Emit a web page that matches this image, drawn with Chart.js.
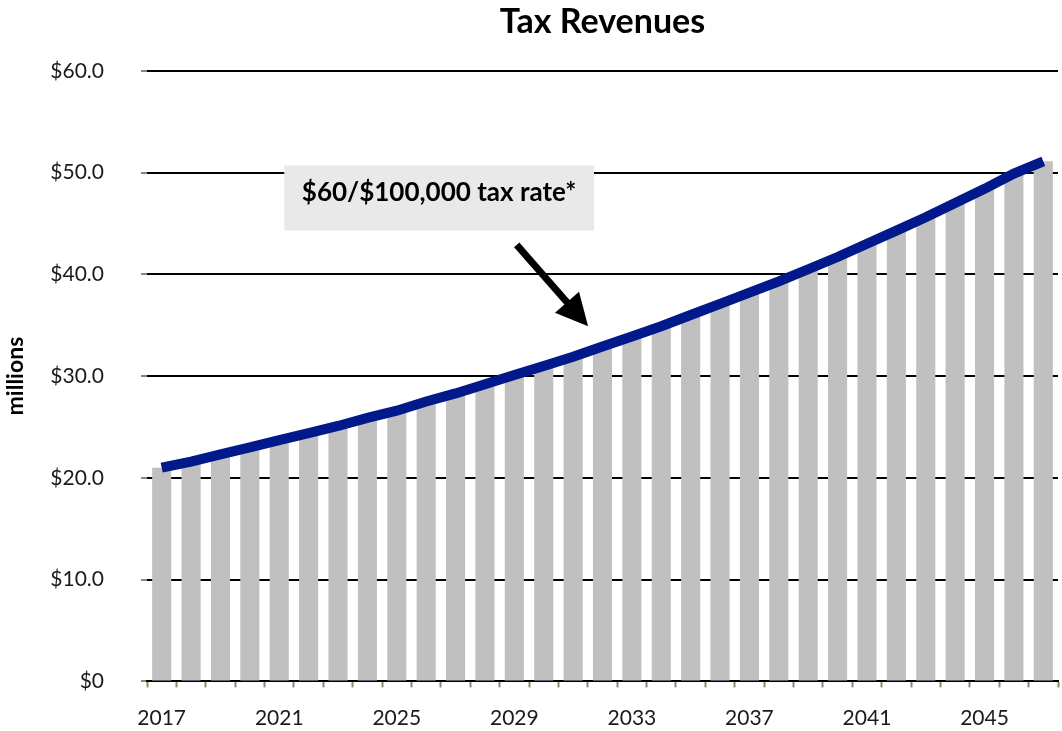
<!DOCTYPE html>
<html>
<head>
<meta charset="utf-8">
<title>Tax Revenues</title>
<script src="https://cdn.jsdelivr.net/npm/chart.js@4.4.1/dist/chart.umd.min.js"></script>
<style>
    html, body { margin: 0; padding: 0; background: #fff; }
    #wrap { width: 1062px; height: 731px; }
</style>
</head>
<body>
<div id="wrap"><canvas id="revenueChart"></canvas></div>
<script>
// Projected revenues, in millions of dollars
const years = [
    2017, 2018, 2019, 2020, 2021, 2022, 2023, 2024, 2025, 2026, 2027,
    2028, 2029, 2030, 2031, 2032, 2033, 2034, 2035, 2036, 2037,
    2038, 2039, 2040, 2041, 2042, 2043, 2044, 2045, 2046, 2047
];
const revenues = [
    21.0, 21.6, 22.3, 23.0, 23.7, 24.4, 25.1, 25.9, 26.6, 27.5, 28.3,
    29.2, 30.1, 31.0, 31.9, 32.9, 33.9, 34.9, 36.0, 37.1, 38.2,
    39.3, 40.5, 41.7, 43.0, 44.3, 45.6, 47.0, 48.4, 49.9, 51.1
];
const yTickValues = [0, 10, 20, 30, 40, 50, 60];
const calloutText = '$60/$100,000 tax rate*';

const FONT = 'Lato, "Open Sans", sans-serif';
const TICK_GREEN = '#7e9163';

// Grey callout box with an arrow pointing at the rate line.
// Positions are given in category index / axis units so they follow the scales.
const calloutPlugin = {
    id: 'callout',
    afterDatasetsDraw(chart) {
        const { ctx, scales: { x, y } } = chart;
        const step = x.getPixelForValue(1) - x.getPixelForValue(0);
        const xAt = (i) => x.getPixelForValue(0) + i * step;

        // box
        const left = xAt(4.17), right = xAt(14.71);
        const top = y.getPixelForValue(50.7), bottom = y.getPixelForValue(44.3);
        ctx.save();
        ctx.fillStyle = '#e9e9e9';
        ctx.fillRect(left, top, right - left, bottom - top);
        ctx.fillStyle = '#000';
        ctx.font = 'bold 26px ' + FONT;
        ctx.textAlign = 'center';
        ctx.textBaseline = 'middle';
        ctx.fillText(calloutText, (left + right) / 2, top + 27);

        // arrow
        const sx = xAt(12.08), sy = y.getPixelForValue(42.9);
        const tx = xAt(14.51), ty = y.getPixelForValue(34.9);
        const ang = Math.atan2(ty - sy, tx - sx);
        const headLen = 32, headHalf = 16;
        const bx = tx - headLen * Math.cos(ang), by = ty - headLen * Math.sin(ang);
        ctx.strokeStyle = '#000';
        ctx.lineWidth = 7;
        ctx.beginPath();
        ctx.moveTo(sx, sy);
        ctx.lineTo(bx + 4 * Math.cos(ang), by + 4 * Math.sin(ang));
        ctx.stroke();
        ctx.beginPath();
        ctx.moveTo(tx, ty);
        ctx.lineTo(bx + headHalf * Math.sin(ang), by - headHalf * Math.cos(ang));
        ctx.lineTo(bx - headHalf * Math.sin(ang), by + headHalf * Math.cos(ang));
        ctx.closePath();
        ctx.fill();
        ctx.restore();
    }
};

const ctx = document.getElementById('revenueChart');
new Chart(ctx, {
    data: {
        labels: years,
        datasets: [
            {
                type: 'line',
                label: 'Tax rate',
                data: revenues,
                borderColor: '#02198c',
                borderWidth: 10,
                pointRadius: 0,
                tension: 0,
                borderCapStyle: 'butt',
                order: 1
            },
            {
                type: 'bar',
                label: 'Revenues',
                data: revenues,
                backgroundColor: '#c0c0c0',
                barPercentage: 0.65,
                categoryPercentage: 1.0,
                order: 2
            }
        ]
    },
    options: {
        responsive: true,
        maintainAspectRatio: false,
        animation: false,
        layout: { padding: { left: 0, right: 4, top: 0, bottom: 0 } },
        plugins: {
            legend: { display: false },
            tooltip: { enabled: false },
            title: {
                display: true,
                text: 'Tax Revenues',
                fullSize: false,
                color: '#000',
                font: { family: FONT, size: 34, weight: 'bold' },
                padding: { top: 2, bottom: 28 }
            }
        },
        scales: {
            x: {
                offset: true,
                afterFit: (scale) => { scale.height = 49; },
                grid: {
                    offset: true,
                    drawOnChartArea: false,
                    tickLength: 6,
                    tickColor: TICK_GREEN,
                    tickWidth: 2
                },
                border: { color: '#000', width: 2 },
                ticks: {
                    autoSkip: false,
                    maxRotation: 0,
                    padding: 18,
                    color: '#1a1a1a',
                    font: { family: FONT, size: 21 },
                    callback: (val, idx) => (idx % 4 === 0 ? String(years[idx]) : '')
                }
            },
            y: {
                min: 0,
                max: 60,
                afterBuildTicks: (scale) => {
                    scale.ticks = yTickValues.map(v => ({ value: v }));
                },
                afterFit: (scale) => { scale.width = 147; },
                grid: {
                    color: '#000',
                    lineWidth: 2,
                    tickLength: 6,
                    tickColor: TICK_GREEN
                },
                border: { display: false },
                ticks: {
                    padding: 37,
                    color: '#1a1a1a',
                    font: { family: FONT, size: 21 },
                    callback: (v) => (v === 0 ? '$0' : '$' + v.toFixed(1))
                },
                title: {
                    display: true,
                    text: 'millions',
                    color: '#000',
                    font: { family: FONT, size: 23, weight: 'bold' },
                    padding: { top: 2, bottom: 0 }
                }
            }
        }
    },
    plugins: [calloutPlugin]
});
</script>
</body>
</html>
